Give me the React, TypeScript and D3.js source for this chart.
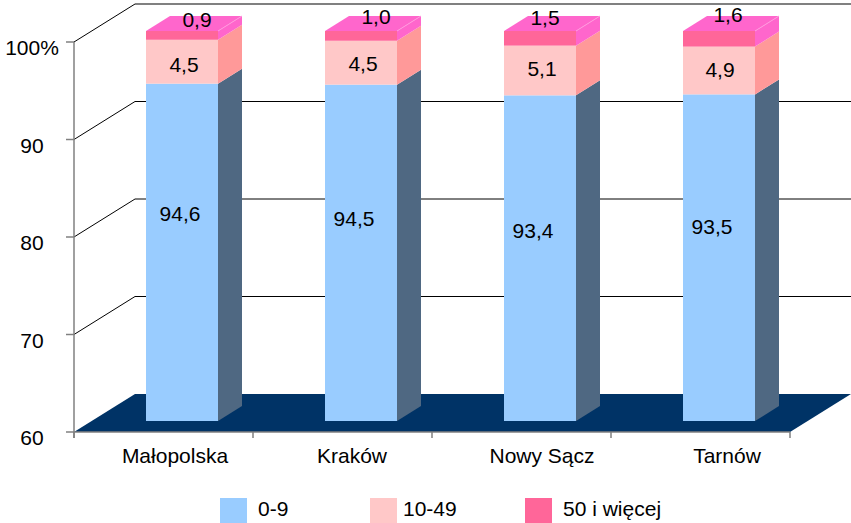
import React from "react";
import * as d3 from "d3";

const categories = ["Małopolska", "Kraków", "Nowy Sącz", "Tarnów"];
const seriesNames = ["0-9", "10-49", "50 i więcej"];
const small = [94.6, 94.5, 93.4, 93.5];
const medium = [4.5, 4.5, 5.1, 4.9];
const large = [0.9, 1.0, 1.5, 1.6];
const yTicks = [60, 70, 80, 90, 100];

const series = [small, medium, large];
const frontColors = ["#99ccff", "#ffc8c8", "#ff6699"];
const sideColors = ["#4f6882", "#ff9999", "#ff66cc"];
const topColor = "#ff66cc";
const floorColor = "#003366";
const axisColor = "#808080";
const font = "'Liberation Sans', Arial, sans-serif";
const FS = 21;

// label placement as pixel nudges per [series][category], relative to bar left / segment top
const labelDx = [[34, 29, 29, 29], [38, 38, 38, 37], [51, 51, 41, 45]];
const labelDy = [[137, 141, 143, 140], [32, 30, 30, 30], [-4, -7, -6, -9]];
const catNudge = [11.5, 9.5, 20.5, 26.5];

const DX = 61, DY = 38;
const y = d3.scaleLinear().domain([60, 100]).range([432, 42]);
const x = d3.scaleBand<string>().domain(categories).range([74, 790]);
const barW = 72, barOffX = 18.5, barOffY = 11, barDX = 24, barDY = 15;

function poly(pts: [number, number][]) {
  return pts.map((p) => p.join(",")).join(" ");
}

export default function App() {
  const step = x.step();
  return (
    <svg width={851} height={523} style={{ position: "absolute", left: 0, top: 0, background: "#fff" }} fontFamily={font}>
      {/* back grid */}
      {yTicks.map((t) => {
        if (t === 60) return null;
        return (
          <polyline key={t} fill="none" stroke="#000" strokeWidth={1}
            points={poly([[74, y(t)], [74 + DX, y(t) - DY], [851, y(t) - DY]])} />
        );
      })}
      <line x1={74 + DX} x2={851} y1={y(100) - DY} y2={y(100) - DY} stroke={axisColor} strokeWidth={1.5} />
      {/* floor */}
      <polygon fill={floorColor} points={poly([[74, 432], [74 + DX, 432 - DY], [851, 432 - DY], [790, 432]])} />
      {/* axes */}
      <line x1={74} x2={74} y1={y(100)} y2={438} stroke={axisColor} strokeWidth={1.5} />
      <line x1={74} x2={790} y1={432} y2={432} stroke={axisColor} strokeWidth={1.5} />
      {yTicks.map((t) => (
        <g key={t}>
          <line x1={66} x2={74} y1={y(t)} y2={y(t)} stroke={axisColor} strokeWidth={1.5} />
          <text x={32} y={y(t) + 13} fontSize={FS} textAnchor="middle" fill="#000">{t === 100 ? "100%" : t}</text>
        </g>
      ))}
      {d3.range(categories.length + 1).map((i) => (
        <line key={i} x1={74 + i * step} x2={74 + i * step} y1={432} y2={438} stroke={axisColor} strokeWidth={1.5} />
      ))}
      {/* bars */}
      {categories.map((c, i) => {
        const cx = (x(c) as number) + step / 2 + barOffX;
        const x0 = Math.round(cx - barW / 2);
        const x1 = x0 + barW;
        let acc = 0;
        const rows = series.map((s, k) => {
          const lo = acc;
          acc += s[i];
          return { k, yb: y(Math.max(lo, 60)) - barOffY, yt: y(Math.min(acc, 100)) - barOffY };
        });
        const top = rows[2].yt;
        return (
          <g key={c}>
            {rows.map((r) => (
              <g key={r.k}>
                <polygon fill={sideColors[r.k]}
                  points={poly([[x1, r.yb], [x1 + barDX, r.yb - barDY], [x1 + barDX, r.yt - barDY], [x1, r.yt]])} />
                <rect x={x0} y={r.yt} width={barW} height={r.yb - r.yt} fill={frontColors[r.k]} />
              </g>
            ))}
            <polygon fill={topColor} points={poly([[x0, top], [x0 + barDX, top - barDY], [x1 + barDX, top - barDY], [x1, top]])} />
            <line x1={x1} y1={top} x2={x1 + barDX} y2={top - barDY} stroke="#ff99dd" strokeWidth={1} />
            {rows.map((r) => (
              <text key={r.k} x={x0 + labelDx[r.k][i]} y={r.yt + labelDy[r.k][i]} fontSize={FS} textAnchor="middle" fill="#000">
                {d3.format(".1f")(series[r.k][i]).replace(".", ",")}
              </text>
            ))}
          </g>
        );
      })}
      {/* category labels */}
      {categories.map((c, i) => (
        <text key={c} x={(x(c) as number) + step / 2 + catNudge[i]} y={463} fontSize={FS} textAnchor="middle" fill="#000">{c}</text>
      ))}
      {/* legend */}
      {seriesNames.map((n, i) => {
        const lx = [220, 370, 525][i];
        const tx = [258, 403, 563][i];
        return (
          <g key={n}>
            <rect x={lx} y={498} width={27} height={25} fill={frontColors[i]} />
            <text x={tx} y={516} fontSize={FS} fill="#000">{n}</text>
          </g>
        );
      })}
    </svg>
  );
}
